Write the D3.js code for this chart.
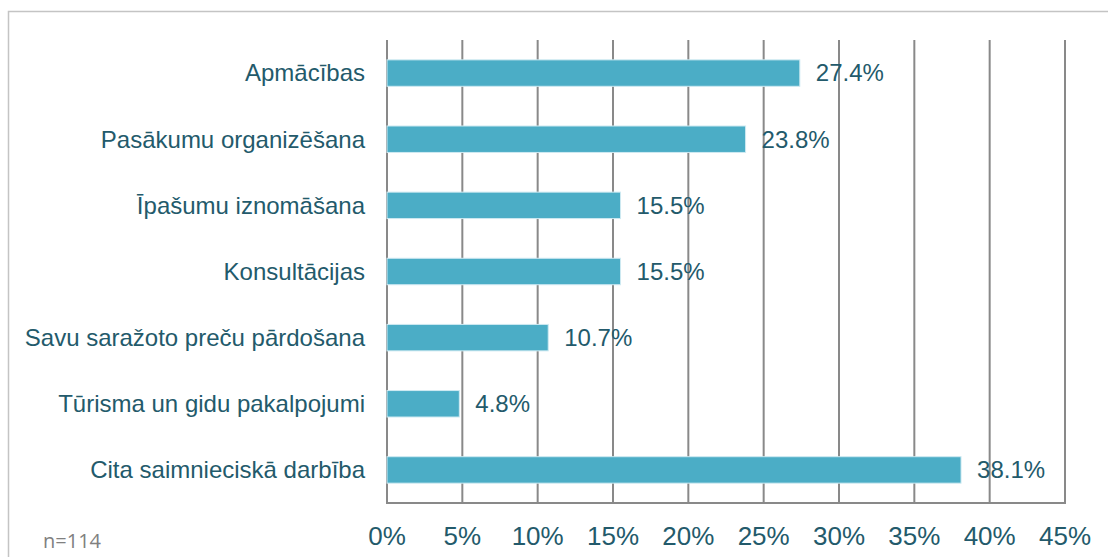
<!DOCTYPE html>
<html><head><meta charset="utf-8">
<script src="https://cdn.jsdelivr.net/npm/d3@7"></script>
<style>body{margin:0;background:#fff}svg{display:block}</style>
</head><body>
<svg id="chart" width="1108" height="557"></svg>
<script>
const categories = ["Apmācības","Pasākumu organizēšana","Īpašumu iznomāšana","Konsultācijas","Savu saražoto preču pārdošana","Tūrisma un gidu pakalpojumi","Cita saimnieciskā darbība"];
const values = [27.4, 23.8, 15.5, 15.5, 10.7, 4.8, 38.1];
const tickValues = [0,5,10,15,20,25,30,35,40,45];
const note = "n=114";

const svg = d3.select("#chart");
const textColor = "#235a6b";
const plotLeft = 387, plotRight = 1065, plotTop = 40, plotBottom = 503;

svg.append("rect").attr("x",8.5).attr("y",11.5).attr("width",1200).attr("height",600)
  .attr("fill","none").attr("stroke","#c4c4c4").attr("stroke-width",1.5);

const x = d3.scaleLinear().domain([0,45]).range([plotLeft,plotRight]);
const y = d3.scaleBand().domain(categories).range([plotTop,plotBottom]).paddingInner(0.6).paddingOuter(0.3);

// gridlines
svg.append("g").selectAll("line").data(tickValues).join("line")
  .attr("x1",d=>x(d)).attr("x2",d=>x(d)).attr("y1",plotTop).attr("y2",plotBottom)
  .attr("stroke","#898989").attr("stroke-width",2);
svg.append("line").attr("x1",plotLeft-1).attr("x2",plotRight+1).attr("y1",plotBottom).attr("y2",plotBottom)
  .attr("stroke","#898989").attr("stroke-width",2);

// bars
svg.append("g").selectAll("rect").data(values).join("rect")
  .attr("x",x(0)).attr("y",(d,i)=>y(categories[i]))
  .attr("width",d=>x(d)-x(0)).attr("height",y.bandwidth())
  .attr("fill","#4badc6").attr("stroke","#cfeaf2").attr("stroke-width",1);

// value labels
svg.append("g").selectAll("text").data(values).join("text")
  .attr("x",d=>x(d)+16).attr("y",(d,i)=>y(categories[i])+y.bandwidth()/2)
  .attr("dy","0.35em").attr("fill",textColor)
  .style("font-family","Liberation Sans, Arial, sans-serif").style("font-size","24px")
  .text(d=>d.toFixed(1)+"%");

// category labels
svg.append("g").selectAll("text").data(categories).join("text")
  .attr("x",plotLeft-22).attr("y",d=>y(d)+y.bandwidth()/2).attr("dy","0.35em")
  .attr("text-anchor","end").attr("fill",textColor)
  .style("font-family","Liberation Sans, Arial, sans-serif").style("font-size","24px")
  .text(d=>d);

// x tick labels
svg.append("g").selectAll("text").data(tickValues).join("text")
  .attr("x",d=>x(d)).attr("y",545).attr("text-anchor","middle").attr("fill",textColor)
  .style("font-family","Liberation Sans, Arial, sans-serif").style("font-size","26px")
  .text(d=>d+"%");

svg.append("text").attr("x",43).attr("y",548).attr("fill","#808080")
  .style("font-family","Open Sans, sans-serif").style("font-size","20px").text(note);
</script>
</body></html>
